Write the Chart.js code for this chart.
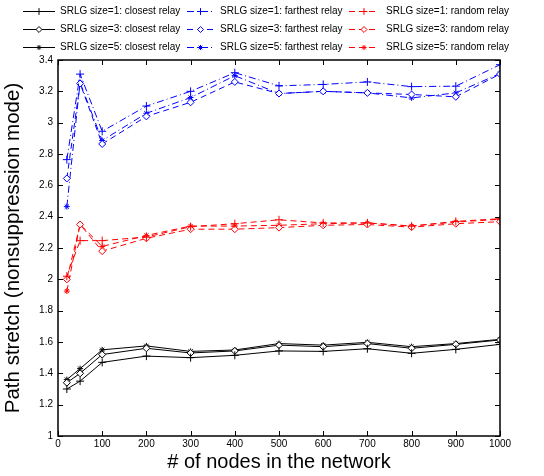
<!DOCTYPE html>
<html>
<head>
<meta charset="utf-8">
<script src="https://cdn.jsdelivr.net/npm/chart.js@4/dist/chart.umd.min.js"></script>
<style>
html,body{margin:0;padding:0;background:#fff;}
#wrap{width:544px;height:476px;position:relative;}
</style>
</head>
<body>
<div id="wrap"><canvas id="c" width="544" height="476"></canvas></div>
<script>
const nodeCounts = [20, 50, 100, 200, 300, 400, 500, 600, 700, 800, 900, 1000];
const xTicks = [0, 100, 200, 300, 400, 500, 600, 700, 800, 900, 1000];
const yTicks = [1, 1.2, 1.4, 1.6, 1.8, 2, 2.2, 2.4, 2.6, 2.8, 3, 3.2, 3.4];

const closest1 = [1.30, 1.35, 1.47, 1.51, 1.50, 1.515, 1.543, 1.54, 1.557, 1.528, 1.553, 1.585];
const closest3 = [1.34, 1.40, 1.52, 1.56, 1.53, 1.543, 1.58, 1.57, 1.59, 1.56, 1.585, 1.613];
const closest5 = [1.36, 1.43, 1.55, 1.575, 1.54, 1.549, 1.59, 1.58, 1.598, 1.57, 1.59, 1.617];
const farthest1 = [2.764, 3.31, 2.945, 3.106, 3.20, 3.319, 3.235, 3.244, 3.26, 3.23, 3.233, 3.37];
const farthest3 = [2.644, 3.25, 2.864, 3.04, 3.13, 3.26, 3.186, 3.20, 3.19, 3.18, 3.165, 3.31];
const farthest5 = [2.464, 3.256, 2.886, 3.06, 3.16, 3.30, 3.186, 3.20, 3.19, 3.158, 3.19, 3.314];
const random1 = [2.02, 2.247, 2.247, 2.27, 2.336, 2.355, 2.38, 2.36, 2.36, 2.34, 2.37, 2.387];
const random3 = [2.00, 2.35, 2.18, 2.262, 2.32, 2.32, 2.33, 2.345, 2.35, 2.333, 2.355, 2.368];
const random5 = [1.925, 2.35, 2.21, 2.28, 2.34, 2.34, 2.345, 2.355, 2.36, 2.34, 2.366, 2.383];

const FONT = '"Liberation Sans", Arial, Helvetica, sans-serif';

function pts(vals) { return nodeCounts.map((x, i) => ({x: x, y: vals[i]})); }

function ds(label, vals, color, marker, dash, radius) {
  return {
    label: label,
    data: pts(vals),
    borderColor: color,
    backgroundColor: marker === 'rectRot' ? '#ffffff' : color,
    pointBorderColor: color,
    pointBackgroundColor: marker === 'rectRot' ? '#ffffff' : color,
    pointStyle: marker,
    pointRadius: radius,
    pointBorderWidth: 1,
    borderWidth: 1,
    borderDash: dash,
    tension: 0,
    fill: false
  };
}

const BLACK = '#000000', BLUE = '#0000ff', RED = '#ff0000';
const SOLID = [], DASHDOT = [7, 3, 1, 3], DASHED = [6, 4];

const datasets = [
  ds('SRLG size=1: closest relay', closest1, BLACK, 'cross', SOLID, 4),
  ds('SRLG size=1: farthest relay', farthest1, BLUE, 'cross', DASHDOT, 4),
  ds('SRLG size=1: random relay', random1, RED, 'cross', DASHED, 4),
  ds('SRLG size=3: closest relay', closest3, BLACK, 'rectRot', SOLID, 3.5),
  ds('SRLG size=3: farthest relay', farthest3, BLUE, 'rectRot', DASHED, 3.5),
  ds('SRLG size=3: random relay', random3, RED, 'rectRot', DASHED, 3.5),
  ds('SRLG size=5: closest relay', closest5, BLACK, 'star', SOLID, 3),
  ds('SRLG size=5: farthest relay', farthest5, BLUE, 'star', DASHDOT, 3),
  ds('SRLG size=5: random relay', random5, RED, 'star', DASHED, 3)
];

const legendPlugin = {
  id: 'matlabLegend',
  afterDraw(chart) {
    const ctx = chart.ctx;
    const colLine = [[23, 55], [187, 214], [349, 379]];
    const colText = [60, 220, 386];
    const rowY = [11, 29, 47];
    ctx.save();
    chart.data.datasets.forEach((d, i) => {
      const r = Math.floor(i / 3), c = i % 3;
      const y = rowY[r] + 0.5;
      ctx.strokeStyle = d.borderColor;
      ctx.lineWidth = 1;
      ctx.setLineDash(d.borderDash);
      ctx.beginPath();
      ctx.moveTo(colLine[c][0], y);
      ctx.lineTo(colLine[c][1], y);
      ctx.stroke();
      ctx.setLineDash([]);
      ctx.fillStyle = d.pointBackgroundColor;
      ctx.strokeStyle = d.pointBorderColor;
      Chart.helpers.drawPoint(ctx, {pointStyle: d.pointStyle, radius: d.pointRadius * 0.85, rotation: 0, borderWidth: 1},
        (colLine[c][0] + colLine[c][1]) / 2, y);
      ctx.fillStyle = '#000';
      ctx.font = '10px ' + FONT;
      ctx.textBaseline = 'middle';
      ctx.textAlign = 'left';
      ctx.fillText(d.label, colText[c], y);
    });
    ctx.restore();
  }
};

const boxPlugin = {
  id: 'matlabBox',
  afterDatasetsDraw(chart) {
    const ctx = chart.ctx;
    const a = chart.chartArea;
    const xs = chart.scales.x, ys = chart.scales.y;
    const tl = 5;
    ctx.save();
    ctx.strokeStyle = '#000';
    ctx.lineWidth = 1;
    ctx.setLineDash([]);
    ctx.beginPath();
    xs.ticks.forEach(t => {
      const px = Math.round(xs.getPixelForValue(t.value)) + 0.5;
      ctx.moveTo(px, a.bottom); ctx.lineTo(px, a.bottom - tl);
      ctx.moveTo(px, a.top); ctx.lineTo(px, a.top + tl);
    });
    ys.ticks.forEach(t => {
      const py = Math.round(ys.getPixelForValue(t.value)) + 0.5;
      ctx.moveTo(a.left, py); ctx.lineTo(a.left + tl, py);
      ctx.moveTo(a.right, py); ctx.lineTo(a.right - tl, py);
    });
    ctx.stroke();
    ctx.lineWidth = 1.5;
    ctx.strokeRect(Math.round(a.left), Math.round(a.top), Math.round(a.right - a.left), Math.round(a.bottom - a.top));
    ctx.restore();
  }
};

new Chart(document.getElementById('c'), {
  type: 'line',
  data: { datasets: datasets },
  plugins: [legendPlugin, boxPlugin],
  options: {
    responsive: false,
    animation: false,
    devicePixelRatio: 1,
    layout: { padding: { top: 60, right: 44, left: 0, bottom: 0 } },
    plugins: { legend: { display: false }, tooltip: { enabled: false } },
    scales: {
      x: {
        type: 'linear', min: 0, max: 1000,
        afterBuildTicks: s => { s.ticks = xTicks.map(v => ({value: v})); },
        afterFit: s => { s.height = 40; },
        grid: { display: false, drawTicks: false },
        border: { display: false },
        ticks: { color: '#000', font: { family: FONT, size: 10 }, padding: 2, maxRotation: 0, autoSkip: false,
                 callback: v => String(v) },
        title: { display: true, text: '# of nodes in the network', color: '#000',
                 font: { family: FONT, size: 20 }, padding: { top: 0, bottom: 2 } }
      },
      y: {
        type: 'linear', min: 1, max: 3.4,
        afterBuildTicks: s => { s.ticks = yTicks.map(v => ({value: v})); },
        afterFit: s => { s.width = 58; },
        grid: { display: false, drawTicks: false },
        border: { display: false },
        ticks: { color: '#000', font: { family: FONT, size: 10 }, padding: 5, autoSkip: false,
                 callback: v => String(Math.round(v * 10) / 10) },
        title: { display: true, text: 'Path stretch (nonsuppression mode)', color: '#000',
                 font: { family: FONT, size: 20.5 }, padding: { top: 1, bottom: 0 } }
      }
    }
  }
});
</script>
</body>
</html>
